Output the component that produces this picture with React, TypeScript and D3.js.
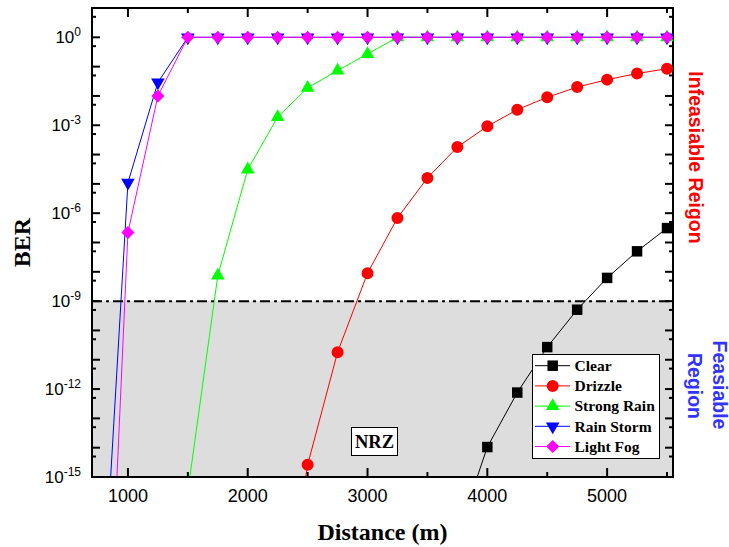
import React, { useEffect, useRef } from 'react';
import * as d3 from 'd3';

// distances (m) shared by every series
const distances = [750, 1000, 1250, 1500, 1750, 2000, 2250, 2500, 2750, 3000, 3250, 3500, 3750, 4000, 4250, 4500, 4750, 5000, 5250, 5500];

// BER (null = not plotted)
const clear = [null, null, null, null, null, null, null, null, null, null, null, null, 1e-17, 1.05e-14, 7.6e-13, 2.7e-11, 5.1e-10, 6.2e-9, 5e-8, 3.1e-7];
const drizzle = [null, null, null, null, null, null, 1e-21, 2.6e-15, 1.8e-11, 9e-9, 6.9e-7, 1.6e-5, 1.8e-4, 9.2e-4, 3.4e-3, 9e-3, 2e-2, 3.6e-2, 5.8e-2, 8.5e-2];
const strongRain = [null, null, null, 3.2e-16, 7.4e-9, 3.1e-5, 1.9e-3, 1.9e-2, 7.3e-2, 0.27, 1, 1, 1, 1, 1, 1, 1, 1, 1, 1];
const rainStorm = [4.5e-23, 1.1e-5, 2.9e-2, 1, 1, 1, 1, 1, 1, 1, 1, 1, 1, 1, 1, 1, 1, 1, 1, 1];
const lightFog = [4e-30, 2.2e-7, 1e-2, 1, 1, 1, 1, 1, 1, 1, 1, 1, 1, 1, 1, 1, 1, 1, 1, 1];

const seriesNames = ['Clear', 'Drizzle', 'Strong Rain', 'Rain Storm', 'Light Fog'];
const seriesColors = ['#000000', '#ff0000', '#00ff00', '#0000ff', '#ff00ff'];
const seriesMarkers = ['square', 'circle', 'up', 'down', 'diamond'];

const majorXTicks = [1000, 2000, 3000, 4000, 5000];
const minorXTicks = [1500, 2500, 3500, 4500, 5500];
const yLabelExponents = [0, -3, -6, -9, -12, -15];
const threshold = 1e-9;

const SANS = '"Liberation Sans", Arial, sans-serif';
const SERIF = '"Liberation Serif", "Times New Roman", serif';

const markerPath = (type: string) => {
  if (type === 'square') return d3.symbol(d3.symbolSquare, 110)();
  if (type === 'circle') return d3.symbol(d3.symbolCircle, 113)();
  if (type === 'up' || type === 'down') return d3.symbol(d3.symbolTriangle, 80)();
  return d3.symbol(d3.symbolSquare, 86)();
};
const markerRotate = (type: string) => (type === 'down' ? 180 : type === 'diamond' ? 45 : 0);

const App = () => {
  const svgRef = useRef<SVGSVGElement>(null);

  useEffect(() => {
    renderChart();
  }, []);

  const renderChart = () => {
    const svg = d3.select(svgRef.current);
    svg.selectAll('*').remove();

    const left = 92, right = 673, top = 8, bottom = 477;

    const x = d3.scaleLinear().domain([700, 5550]).range([left, right]);
    const y = d3.scaleLog().domain([1e-15, 10]).range([bottom, top]);

    svg.append('defs').append('clipPath').attr('id', 'plot-clip')
      .append('rect')
      .attr('x', left).attr('y', top)
      .attr('width', right - left).attr('height', bottom - top);

    // feasible region shading
    svg.append('rect')
      .attr('x', left).attr('y', y(threshold))
      .attr('width', right - left).attr('height', bottom - y(threshold))
      .attr('fill', '#dddddd');

    const allSeries = [clear, drizzle, strongRain, rainStorm, lightFog];

    const line = d3.line<[number, number | null]>()
      .defined(d => d[1] !== null)
      .x(d => x(d[0]))
      .y(d => y(d[1] as number));

    const lines = svg.append('g').attr('clip-path', 'url(#plot-clip)');
    allSeries.forEach((vals, i) => {
      const pts = distances.map((d, j) => [d, vals[j]] as [number, number | null]);
      lines.append('path')
        .attr('d', line(pts))
        .attr('fill', 'none')
        .attr('stroke', seriesColors[i])
        .attr('stroke-width', 1);
    });

    // BER threshold line
    svg.append('line')
      .attr('x1', left).attr('x2', right)
      .attr('y1', y(threshold)).attr('y2', y(threshold))
      .attr('stroke', '#000')
      .attr('stroke-width', 2)
      .attr('stroke-dasharray', '10,4,3,4');

    // frame and ticks
    const axes = svg.append('g').attr('stroke', '#000');
    const decades = d3.range(-15, 2);
    decades.forEach(e => {
      const yy = y(10 ** e);
      axes.append('line').attr('x1', left).attr('x2', left + 8).attr('y1', yy).attr('y2', yy).attr('stroke-width', 2);
      axes.append('line').attr('x1', right).attr('x2', right - 8).attr('y1', yy).attr('y2', yy).attr('stroke-width', 2);
      if (e < 1) {
        const ym = y(5 * 10 ** e);
        axes.append('line').attr('x1', left).attr('x2', left + 4).attr('y1', ym).attr('y2', ym).attr('stroke-width', 2);
        axes.append('line').attr('x1', right).attr('x2', right - 4).attr('y1', ym).attr('y2', ym).attr('stroke-width', 2);
      }
    });
    majorXTicks.forEach(t => {
      axes.append('line').attr('x1', x(t)).attr('x2', x(t)).attr('y1', bottom).attr('y2', bottom - 9).attr('stroke-width', 2);
      axes.append('line').attr('x1', x(t)).attr('x2', x(t)).attr('y1', top).attr('y2', top + 9).attr('stroke-width', 2);
    });
    minorXTicks.forEach(t => {
      axes.append('line').attr('x1', x(t)).attr('x2', x(t)).attr('y1', bottom).attr('y2', bottom - 5).attr('stroke-width', 2);
      axes.append('line').attr('x1', x(t)).attr('x2', x(t)).attr('y1', top).attr('y2', top + 5).attr('stroke-width', 2);
    });
    axes.append('rect')
      .attr('x', left).attr('y', top)
      .attr('width', right - left).attr('height', bottom - top)
      .attr('fill', 'none').attr('stroke-width', 2);

    // markers
    allSeries.forEach((vals, i) => {
      const g = svg.append('g');
      distances.forEach((d, j) => {
        const v = vals[j];
        if (v === null || v < 1e-15) return;
        g.append('path')
          .attr('d', markerPath(seriesMarkers[i]))
          .attr('transform', `translate(${x(d)},${y(v)}) rotate(${markerRotate(seriesMarkers[i])})`)
          .attr('fill', seriesColors[i]);
      });
    });

    // tick labels
    majorXTicks.forEach(t => {
      svg.append('text')
        .attr('x', x(t)).attr('y', 501.5)
        .attr('text-anchor', 'middle')
        .attr('font-family', SANS).attr('font-size', 18)
        .text(String(t));
    });
    yLabelExponents.forEach(e => {
      const t = svg.append('text')
        .attr('x', 81).attr('y', y(10 ** e) + 6)
        .attr('text-anchor', 'end')
        .attr('font-family', SANS).attr('font-size', 17);
      t.append('tspan').text('10');
      t.append('tspan').attr('dy', -7).attr('font-size', 12).text(String(e));
    });

    // axis titles
    svg.append('text')
      .attr('x', 382.5).attr('y', 540)
      .attr('text-anchor', 'middle')
      .attr('font-family', SERIF).attr('font-weight', 'bold').attr('font-size', 24)
      .text('Distance (m)');
    svg.append('text')
      .attr('transform', 'translate(30,242.5) rotate(-90)')
      .attr('text-anchor', 'middle')
      .attr('font-family', SERIF).attr('font-weight', 'bold').attr('font-size', 24)
      .text('BER');

    // region labels
    svg.append('text')
      .attr('transform', 'translate(689,157.5) rotate(90)')
      .attr('text-anchor', 'middle')
      .attr('font-family', SANS).attr('font-weight', 'bold').attr('font-size', 19.5)
      .attr('fill', '#ff0000')
      .text('Infeasiable Reigon');
    svg.append('text')
      .attr('transform', 'translate(712.5,385) rotate(90)')
      .attr('text-anchor', 'middle')
      .attr('font-family', SANS).attr('font-weight', 'bold').attr('font-size', 19.5)
      .attr('fill', '#3333ff')
      .text('Feasiable');
    svg.append('text')
      .attr('transform', 'translate(688,386) rotate(90)')
      .attr('text-anchor', 'middle')
      .attr('font-family', SANS).attr('font-weight', 'bold').attr('font-size', 19.5)
      .attr('fill', '#3333ff')
      .text('Region');

    // NRZ box
    svg.append('rect')
      .attr('x', 351.5).attr('y', 427.5).attr('width', 46).attr('height', 28)
      .attr('fill', '#fff').attr('stroke', '#000').attr('stroke-width', 1);
    svg.append('text')
      .attr('x', 374.5).attr('y', 447.5)
      .attr('text-anchor', 'middle')
      .attr('font-family', SERIF).attr('font-weight', 'bold').attr('font-size', 18.5)
      .text('NRZ');

    // legend
    const legend = svg.append('g');
    legend.append('rect')
      .attr('x', 532.5).attr('y', 354.5).attr('width', 127).attr('height', 104)
      .attr('fill', '#fff').attr('stroke', '#000').attr('stroke-width', 1);
    seriesNames.forEach((name, i) => {
      const ly = 365.7 + i * 20.2;
      legend.append('line')
        .attr('x1', 535).attr('x2', 570).attr('y1', ly).attr('y2', ly)
        .attr('stroke', seriesColors[i]).attr('stroke-width', 1);
      legend.append('path')
        .attr('d', markerPath(seriesMarkers[i]))
        .attr('transform', `translate(552.7,${ly}) rotate(${markerRotate(seriesMarkers[i])})`)
        .attr('fill', seriesColors[i]);
      legend.append('text')
        .attr('x', 574.5).attr('y', ly + 5.3)
        .attr('font-family', SERIF).attr('font-weight', 'bold').attr('font-size', 15.5)
        .text(name);
    });
  };

  return <svg ref={svgRef} width={729} height={547} style={{ position: 'absolute', left: 0, top: 0, background: '#fff' }}></svg>;
};

export default App;
